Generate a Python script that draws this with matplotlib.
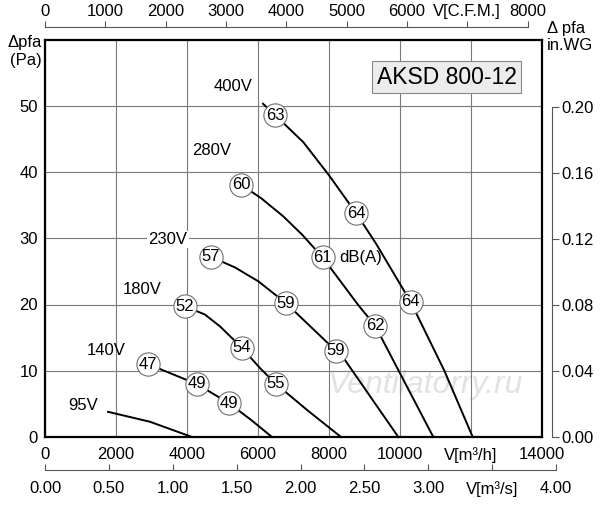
import matplotlib.pyplot as plt

plt.rcParams['font.family'] = ['Liberation Sans', 'DejaVu Sans']

# fan curves, flow in m3/h, pressure in Pa
q_400 = [6141, 6479, 7277, 8000, 8761, 9324, 10300, 11250, 12048]
p_400 = [50.3, 48.6, 44.5, 39.5, 33.8, 29.2, 20.4, 10.0, 0.0]
q_280 = [5521, 6100, 6713, 7250, 7822, 8826, 9300, 10938]
p_280 = [38.1, 36.0, 33.3, 30.5, 27.1, 19.9, 16.8, 0.0]
q_230 = [4676, 5350, 6009, 6789, 8197, 8400, 9953]
p_230 = [27.2, 25.6, 23.5, 20.2, 13.0, 12.0, 0.0]
q_180 = [3944, 4500, 4930, 5540, 6056, 6507, 7400, 8338]
p_180 = [19.7, 18.5, 16.7, 13.5, 10.4, 8.0, 4.0, 0.0]
q_140 = [2901, 4273, 5183, 5800, 6394]
p_140 = [11.0, 8.0, 5.1, 2.6, 0.0]
q_95 = [1775, 2958, 4141]
p_95 = [3.8, 2.3, 0.0]

# sound level markers (flow, pressure, dB(A))
db_q = [6479, 8761, 10300, 5521, 7822, 9300, 4676, 6789, 8197, 3944, 5540, 6507, 2901, 4273, 5183]
db_p = [48.6, 33.8, 20.4, 38.1, 27.1, 16.8, 27.2, 20.2, 13.0, 19.7, 13.5, 8.0, 11.0, 8.0, 5.1]
db_val = ['63', '64', '64', '60', '61', '62', '57', '59', '59', '52', '54', '55', '47', '49', '49']

volt_labels = ['400V', '280V', '230V', '180V', '140V', '95V']
volt_q = [5296, 4704, 3465, 2732, 1718, 1070]
volt_p = [52.9, 43.2, 29.8, 22.2, 13.0, 4.7]

x_ticks = [0, 2000, 4000, 6000, 8000, 10000, 12000, 14000]
x_labels = ['0', '2000', '4000', '6000', '8000', '10000', 'V[m³/h]', '14000']
y_ticks = [0, 10, 20, 30, 40, 50]
cfm_ticks = [0, 1000, 2000, 3000, 4000, 5000, 6000, 7000, 8000]
cfm_labels = ['0', '1000', '2000', '3000', '4000', '5000', '6000', 'V[C.F.M.]', '8000']
ms_ticks = [0, 0.5, 1.0, 1.5, 2.0, 2.5, 3.0, 3.5, 4.0]
ms_labels = ['0.00', '0.50', '1.00', '1.50', '2.00', '2.50', '3.00', 'V[m³/s]', '4.00']
wg_ticks = [0, 0.04, 0.08, 0.12, 0.16, 0.20]

M3H_PER_CFM = 1.69901
PA_PER_INWG = 249.089
QMAX, PMAX = 14000, 60

fig = plt.figure(figsize=(6.0, 5.05), dpi=100)
L, B, W, H = 45 / 600, 68 / 505, 497 / 600, 397.5 / 505
ax = fig.add_axes([L, B, W, H])
ax.set_xlim(0, QMAX)
ax.set_ylim(0, PMAX)
ax.set_xticks(x_ticks)
ax.set_xticklabels(x_labels)
ax.set_yticks(y_ticks)
ax.tick_params(length=0, labelsize=12, pad=5)
ax.tick_params(axis='x', pad=7)
ax.grid(True, color='#7a7a7a', lw=0.8)
for s in ax.spines.values():
    s.set_linewidth(1.6)

ax.text(10700, 7.9, 'Ventilatorry.ru', fontsize=23, style='italic', color='#e2e2e2',
        ha='center', va='center', zorder=1)

for q, p in [(q_400, p_400), (q_280, p_280), (q_230, p_230),
             (q_180, p_180), (q_140, p_140), (q_95, p_95)]:
    ax.plot(q, p, color='black', lw=1.4, zorder=3, clip_on=False)

ax.scatter(db_q, db_p, s=280, facecolor='white', edgecolor='#707070', lw=0.8, zorder=4)
for q, p, t in zip(db_q, db_p, db_val):
    ax.text(q, p, t, fontsize=12, ha='center', va='center', zorder=5)
ax.text(8282, 27.1, 'dB(A)', fontsize=12, ha='left', va='center', zorder=5)

for t, q, p in zip(volt_labels, volt_q, volt_p):
    ax.text(q, p, t, fontsize=12, ha='center', va='center', zorder=5,
            bbox=dict(facecolor='white', edgecolor='none', pad=1) if t == '230V' else None)

ax.text(0.808, 0.905, 'AKSD 800-12', transform=ax.transAxes, fontsize=16.5,
        ha='center', va='center', zorder=6,
        bbox=dict(facecolor='#ececec', edgecolor='#888888', lw=0.8, boxstyle='square,pad=0.2'))

# top axis in C.F.M.
ax_cfm = fig.add_axes([L, (505 - 27) / 505, W, 0.0001])
ax_cfm.set_xlim(0, QMAX / M3H_PER_CFM)
ax_cfm.set_yticks([])
for k in ['left', 'right', 'bottom']:
    ax_cfm.spines[k].set_visible(False)
ax_cfm.spines['top'].set_bounds(0, 8000)
ax_cfm.spines['top'].set_color('#555555')
ax_cfm.xaxis.tick_top()
ax_cfm.set_xticks(cfm_ticks)
ax_cfm.set_xticklabels(cfm_labels)
ax_cfm.tick_params(axis='x', direction='out', length=4, color='#555555', labelsize=12, pad=2)
ax_cfm.patch.set_visible(False)

# bottom axis in m3/s
ax_ms = fig.add_axes([L, (505 - 470) / 505, W * (4.0 * 3600 / QMAX), 0.0001])
ax_ms.set_xlim(0, 4.0)
ax_ms.set_yticks([])
for k in ['left', 'right', 'top']:
    ax_ms.spines[k].set_visible(False)
ax_ms.spines['bottom'].set_color('#555555')
ax_ms.set_xticks(ms_ticks)
ax_ms.set_xticklabels(ms_labels)
ax_ms.tick_params(axis='x', direction='in', length=4, color='#555555', labelsize=12, pad=8)
ax_ms.patch.set_visible(False)

# right axis in in.WG
ax_wg = ax.secondary_yaxis(1.02, functions=(lambda p: p / PA_PER_INWG, lambda w: w * PA_PER_INWG))
ax_wg.set_yticks(wg_ticks)
ax_wg.set_yticklabels(['%.2f' % v for v in wg_ticks])
ax_wg.spines['right'].set_bounds(0, 0.20)
ax_wg.spines['right'].set_color('#555555')
ax_wg.tick_params(direction='out', length=5, color='#555555', labelsize=12, pad=2)

fig.text(42 / 600, 1 - 52 / 505, 'Δpfa\n(Pa)', fontsize=12, ha='right', va='center', linespacing=1.25)
fig.text(547 / 600, 1 - 37 / 505, 'Δ pfa\nin.WG', fontsize=12, ha='left', va='center', linespacing=1.25)

fig.savefig('out.png', dpi=100)
